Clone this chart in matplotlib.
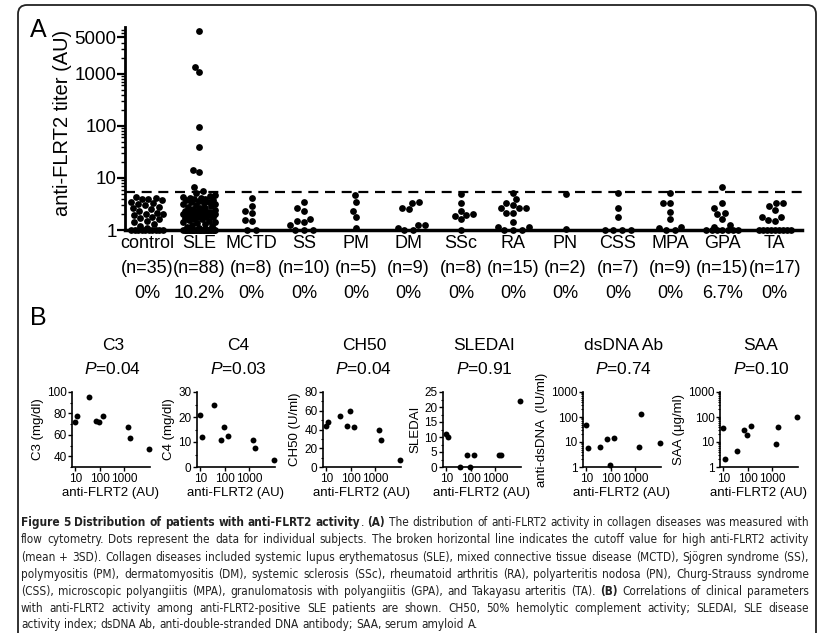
import numpy as np
import matplotlib
matplotlib.use('Agg')
import matplotlib.pyplot as plt
from matplotlib import font_manager, transforms
from matplotlib.patches import FancyBboxPatch
from matplotlib.ticker import FixedLocator, LogLocator, MultipleLocator, NullFormatter

plt.rcParams['font.family'] = ['Liberation Sans', 'DejaVu Sans']
plt.rcParams['mathtext.fontset'] = 'custom'
plt.rcParams['mathtext.rm'] = 'Liberation Sans'
plt.rcParams['mathtext.it'] = 'Liberation Sans:italic'

# ---------------- panel A data (anti-FLRT2 titer, AU) ----------------
groups = ['control', 'SLE', 'MCTD', 'SS', 'PM', 'DM', 'SSc', 'RA', 'PN',
          'CSS', 'MPA', 'GPA', 'TA']
pct_labels = ['0%', '10.2%', '0%', '0%', '0%', '0%', '0%', '0%', '0%',
              '0%', '0%', '6.7%', '0%']
cutoff = 5.45

control = [1.0] * 10 + [1.1, 1.2, 1.3, 1.4, 1.5, 1.6, 1.7, 1.8, 1.9, 2.0,
                        2.0, 2.1, 2.3, 2.5, 2.6, 2.8, 3.0, 3.2, 3.3, 3.5,
                        3.7, 3.9, 4.0, 4.1, 4.3]
sle = [6700, 1380, 1080, 96, 40, 14.2, 12.9, 6.8, 5.6] + [1.0] * 24 + [
    1.1, 1.15, 1.2, 1.25, 1.3, 1.35, 1.4, 1.45, 1.5, 1.55, 1.6, 1.65, 1.7,
    1.75, 1.8, 1.8, 1.85, 1.9, 1.9, 1.95, 2.0, 2.0, 2.0, 2.05, 2.1, 2.1,
    2.15, 2.2, 2.2, 2.25, 2.3, 2.3, 2.4, 2.5, 2.6, 2.7, 2.8, 2.9, 3.0, 3.1,
    3.2, 3.3, 3.4, 3.5, 3.6, 3.7, 3.8, 3.9, 4.0, 4.1, 4.2, 4.4, 4.6, 4.8,
    5.1]
mctd = [1.0, 1.0, 1.5, 1.55, 2.1, 2.35, 2.9, 4.2]
ss = [1.0, 1.0, 1.0, 1.25, 1.4, 1.5, 1.63, 2.35, 2.6, 3.5]
pm = [1.1, 1.8, 2.35, 3.5, 4.7]
dm = [1.0, 1.0, 1.1, 1.25, 1.25, 2.5, 2.7, 3.3, 3.4]
ssc = [1.0, 1.6, 1.88, 1.95, 2.0, 2.35, 3.3, 4.9]
ra = [1.0, 1.0, 1.0, 1.12, 1.12, 1.45, 2.15, 2.15, 2.6, 2.6, 2.7, 3.0,
      3.3, 3.9, 5.1]
pn = [1.05, 4.9]
css = [1.0, 1.0, 1.0, 1.0, 1.76, 2.7, 5.1]
mpa = [1.0, 1.0, 1.08, 1.12, 1.6, 2.25, 3.3, 3.3, 5.2]
gpa = [1.0] * 7 + [1.12, 1.25, 1.63, 2.0, 2.15, 2.6, 3.3, 6.6]
ta = [1.0] * 9 + [1.5, 1.56, 1.76, 1.8, 2.4, 2.9, 3.3, 3.35]
titers = [control, sle, mctd, ss, pm, dm, ssc, ra, pn, css, mpa, gpa, ta]

# ---------------- panel B data (anti-FLRT2 positive SLE) ----------------
flrt2_pos = [10, 12, 36, 72, 95, 135, 1400, 1750, 10000]
c3 = [72, 78, 95, 73, 72, 78, 67, 57, 47]
c4 = [21, 12, 25, 11, 16, 12.5, 11, 7.5, 3]
ch50 = [44, 48, 54, 44, 60, 43, 40, 29, 7]
sledai = [11, 10, 0, 4, 0, 4, 4, 4, 22]
dsdna = [46, 5.6, 6.6, 13, 1.2, 14.5, 6.6, 130, 9]
saa = [35, 2, 4.2, 30, 19, 44, 8.2, 40, 100]
b_names = ['C3', 'C4', 'CH50', 'SLEDAI', 'dsDNA Ab', 'SAA']
b_pvals = ['0.04', '0.03', '0.04', '0.91', '0.74', '0.10']
b_ylabels = ['C3 (mg/dl)', 'C4 (mg/dl)', 'CH50 (U/ml)', 'SLEDAI',
             'anti-dsDNA  (IU/ml)', 'SAA (\u03bcg/ml)']
b_values = [c3, c4, ch50, sledai, dsdna, saa]

W, H = 820, 633
fig = plt.figure(figsize=(W / 100, H / 100), dpi=100)


def px_axes(x0, y0, x1, y1):
    return fig.add_axes([x0 / W, 1 - y1 / H, (x1 - x0) / W, (y1 - y0) / H])


def ftxt(x, y, s, **kw):
    return fig.text(x / W, 1 - y / H, s, **kw)


def swarm_x(ax, xc, vals, hw=16, d=6.8):
    """beeswarm offsets computed in display pixels"""
    vals = np.asarray(vals, float)
    disp = ax.transData.transform(np.column_stack([np.full(len(vals), xc), vals]))
    cx, ys = disp[0, 0], disp[:, 1]
    offs = np.zeros(len(vals))
    floor = vals <= 1.0
    nf = int(floor.sum())
    if nf > 1:
        step = min(d + 2, 2 * hw / (nf - 1))
        offs[floor] = (np.arange(nf) - (nf - 1) / 2) * step
    placed = list(np.where(floor)[0])
    cand = np.arange(-hw, hw + 0.01, 0.5)
    cand = cand[np.argsort(np.abs(cand), kind='stable')]
    for i in np.argsort(vals, kind='stable'):
        if floor[i]:
            continue
        if placed:
            dist = np.sqrt((cand[:, None] - offs[placed][None, :]) ** 2 +
                           (ys[i] - ys[placed][None, :]) ** 2).min(axis=1)
            ok = np.where(dist >= d)[0]
            offs[i] = cand[ok[0]] if len(ok) else cand[np.argmax(dist)]
        placed.append(i)
    return ax.transData.inverted().transform(np.column_stack([cx + offs, ys]))[:, 0]


# ---------------- panel A ----------------
axA = px_axes(125, 27, 802, 230)
axA.set_yscale('log')
axA.set_ylim(1, 7950)
axA.set_xlim(-0.42, 12.52)
for s in ['top', 'right']:
    axA.spines[s].set_visible(False)
axA.spines['left'].set_linewidth(2)
axA.spines['bottom'].set_linewidth(2.5)
axA.yaxis.set_major_locator(FixedLocator([1, 10, 100, 1000, 5000]))
axA.set_yticklabels(['1', '10', '100', '1000', '5000'])
axA.yaxis.set_minor_locator(LogLocator(base=10, subs=np.arange(2, 10)))
axA.yaxis.set_minor_formatter(NullFormatter())
axA.tick_params(axis='y', which='major', length=6, width=1.6, labelsize=13.5, pad=0)
axA.tick_params(axis='y', which='minor', length=3, width=1)
axA.set_xticks([])

for i, vals in enumerate(titers):
    xs = swarm_x(axA, i, vals)
    axA.scatter(xs, vals, s=24, color='black', linewidths=0, clip_on=False, zorder=3)

axA.axhline(cutoff, color='black', lw=1.6, ls=(0, (4.5, 3)), zorder=2)

trA = transforms.blended_transform_factory(axA.transData, fig.transFigure)
for i, g in enumerate(groups):
    kw = dict(transform=trA, ha='center', va='center', fontsize=13)
    axA.text(i, 1 - 243 / H, g, **kw)
    axA.text(i, 1 - 268 / H, '(n=%d)' % len(titers[i]), **kw)
    axA.text(i, 1 - 293 / H, pct_labels[i], **kw)

ftxt(63, 123, 'anti-FLRT2 titer (AU)', rotation=90, ha='center', va='center', fontsize=14.5)
ftxt(38, 30, 'A', ha='center', va='center', fontsize=18)
ftxt(38, 318, 'B', ha='center', va='center', fontsize=18)

# ---------------- panel B ----------------
b_left = [72, 197, 323, 443, 583, 720]
b_ylims = [(30, 100), (0, 30), (0, 80), (0, 25), (1, 1000), (1, 1000)]
b_major = [[40, 60, 80, 100], [0, 10, 20, 30], [0, 20, 40, 60, 80],
           [0, 5, 10, 15, 20, 25], None, None]
b_minor = [10, 5, 10, 2.5, None, None]

for k in range(6):
    x0 = b_left[k]
    ax = px_axes(x0, 392, x0 + 78, 467)
    ax.set_xscale('log')
    ax.set_xlim(7.3, 11200)
    ax.set_ylim(*b_ylims[k])
    if b_major[k] is None:
        ax.set_yscale('log')
        ax.set_ylim(*b_ylims[k])
        ax.yaxis.set_major_locator(FixedLocator([1, 10, 100, 1000]))
        ax.set_yticklabels(['1', '10', '100', '1000'])
        ax.yaxis.set_minor_locator(LogLocator(base=10, subs=np.arange(2, 10)))
        ax.yaxis.set_minor_formatter(NullFormatter())
    else:
        ax.yaxis.set_major_locator(FixedLocator(b_major[k]))
        ax.set_yticklabels([str(v) for v in b_major[k]])
        ax.yaxis.set_minor_locator(MultipleLocator(b_minor[k]))
    ax.xaxis.set_major_locator(FixedLocator([10, 100, 1000]))
    ax.set_xticklabels(['10', '100', '1000'])
    ax.xaxis.set_minor_locator(LogLocator(base=10, subs=np.arange(2, 10)))
    ax.xaxis.set_minor_formatter(NullFormatter())
    for s in ['top', 'right']:
        ax.spines[s].set_visible(False)
    for s in ['left', 'bottom']:
        ax.spines[s].set_linewidth(1.2)
    ax.tick_params(axis='both', which='major', length=3, width=1, pad=1)
    ax.tick_params(axis='both', which='minor', length=1.8, width=0.8)
    ax.tick_params(axis='y', labelsize=8.5)
    ax.tick_params(axis='x', labelsize=8.5)
    ax.scatter(flrt2_pos, b_values[k], s=18, color='black', linewidths=0,
               clip_on=False, zorder=3)
    ax.set_ylabel(b_ylabels[k], fontsize=9.5, labelpad=2)
    ax.set_xlabel('anti-FLRT2 (AU)', fontsize=9.5, labelpad=2)
    cx = x0 + 41
    ftxt(cx, 346, b_names[k], ha='center', va='center', fontsize=12.5)
    ftxt(cx, 369, '$P$=' + b_pvals[k], ha='center', va='center', fontsize=12.5)

# ---------------- caption ----------------
cap_lines = [
    "**Figure 5 Distribution of patients with anti-FLRT2 activity**. **(A)** The distribution of anti-FLRT2 activity in collagen diseases was measured with",
    "flow cytometry. Dots represent the data for individual subjects. The broken horizontal line indicates the cutoff value for high anti-FLRT2 activity",
    "(mean + 3SD). Collagen diseases included systemic lupus erythematosus (SLE), mixed connective tissue disease (MCTD), Sj\u00f6gren syndrome (SS),",
    "polymyositis (PM), dermatomyositis (DM), systemic sclerosis (SSc), rheumatoid arthritis (RA), polyarteritis nodosa (PN), Churg-Strauss syndrome",
    "(CSS), microscopic polyangiitis (MPA), granulomatosis with polyangiitis (GPA), and Takayasu arteritis (TA). **(B)** Correlations of clinical parameters",
    "with anti-FLRT2 activity among anti-FLRT2-positive SLE patients are shown. CH50, 50% hemolytic complement activity; SLEDAI, SLE disease",
    "activity index; dsDNA Ab, anti-double-stranded DNA antibody; SAA, serum amyloid A.",
]
cap_base = [526, 543, 561, 578, 595, 612, 628]
cap_x0, cap_x1 = 21, 809

names = {f.name for f in font_manager.fontManager.ttflist}
if 'Liberation Sans Narrow' in names:
    cap_kw = dict(family='Liberation Sans Narrow')
else:
    cap_kw = dict(family='DejaVu Sans', stretch='condensed')

r = fig.canvas.get_renderer()


def seg_w(s, bold, size):
    t = fig.text(0, 0, s, fontsize=size, fontweight='bold' if bold else 'normal', **cap_kw)
    w = t.get_window_extent(r).width
    t.remove()
    return w


parsed = []
bold = False
for line in cap_lines:
    words = []
    for w in line.split(' '):
        segs = []
        for j, p in enumerate(w.split('**')):
            if j > 0:
                bold = not bold
            if p:
                segs.append((p, bold))
        words.append(segs)
    parsed.append(words)

size = 9.0
sp = seg_w('a a', False, size) - seg_w('aa', False, size)
nat = [sum(seg_w(p, b, size) for wd in words for p, b in wd) + sp * (len(words) - 1)
       for words in parsed]
avail = cap_x1 - cap_x0
if max(nat) > avail * 0.99:
    size *= avail * 0.99 / max(nat)
    sp = seg_w('a a', False, size) - seg_w('aa', False, size)

for li, words in enumerate(parsed):
    widths = [[seg_w(p, b, size) for p, b in wd] for wd in words]
    total = sum(sum(w) for w in widths)
    justify = li < len(parsed) - 1
    gap = (avail - total) / (len(words) - 1) if justify else sp
    x = cap_x0
    for wd, ws in zip(words, widths):
        for (p, b), w in zip(wd, ws):
            ftxt(x, cap_base[li], p, ha='left', va='baseline', fontsize=size,
                 fontweight='bold' if b else 'normal', color='#222222', **cap_kw)
            x += w
        x += gap

# ---------------- frame ----------------
frame = FancyBboxPatch((18, -20), 798, H - 5 + 20,
                       boxstyle='round,pad=0,rounding_size=9',
                       transform=transforms.IdentityTransform(),
                       fc='none', ec='#222222', lw=1.3)
fig.add_artist(frame)

fig.savefig('out.png', dpi=100)
